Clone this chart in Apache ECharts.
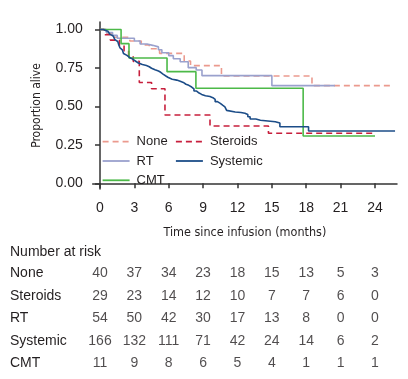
<!DOCTYPE html>
<html>
<head>
<meta charset="utf-8">
<script src="https://cdn.jsdelivr.net/npm/echarts@6/dist/echarts.min.js"></script>
<style>
html,body{margin:0;padding:0;background:#fff;}
#c{width:408px;height:379px;}
</style>
</head>
<body>
<div id="c"></div>
<script>
// ---- data ----
const tickTimes = [0, 3, 6, 9, 12, 15, 18, 21, 24];
const yTicks = [0, 0.25, 0.5, 0.75, 1];
const groups = ['None', 'Steroids', 'RT', 'Systemic', 'CMT'];

const noneT = [0, 0.5, 1.2, 2.6, 3.6, 4.3, 5.2, 7.35, 7.9, 10.6, 18.5, 25.3];
const noneS = [1, 0.975, 0.95, 0.925, 0.9, 0.875, 0.845, 0.795, 0.765, 0.698, 0.635, 0.635];

const steroidsT = [0, 0.4, 0.9, 1.7, 2.1, 2.5, 2.9, 3.43, 4.5, 5.67, 9.6, 14.7, 23.8];
const steroidsS = [1, 0.966, 0.931, 0.897, 0.862, 0.828, 0.793, 0.655, 0.615, 0.444, 0.373, 0.325, 0.325];

const rtT = [0, 0.55, 1.1, 1.5, 3.0, 3.5, 4.1, 4.6, 5.1, 5.4, 6.0, 6.4, 7.0, 7.7, 8.4, 8.9, 15.0, 20.5];
const rtS = [1, 0.981, 0.962, 0.943, 0.925, 0.906, 0.897, 0.887, 0.868, 0.849, 0.83, 0.81, 0.79, 0.752, 0.737, 0.70, 0.635, 0.635];

const systemicT = [0, 0.3, 0.5, 0.7, 0.85, 1.0, 1.15, 1.3, 1.45, 1.55, 1.65, 1.75, 1.85, 1.95, 2.05, 2.2, 2.35, 2.55, 2.75, 2.95, 3.15, 3.35, 3.7, 4.05, 4.3, 4.5, 4.8, 5.1, 5.3, 5.5, 5.75, 5.96, 6.3, 6.7, 7.0, 7.27, 7.5, 7.75, 8.0, 8.2, 8.43, 8.65, 8.87, 9.2, 9.6, 9.85, 10.05, 10.25, 10.5, 10.7, 10.9, 11.05, 11.2, 11.8, 12.3, 12.65, 12.9, 13.1, 13.6, 14.0, 15.3, 15.7, 18.2, 25.75];
const systemicS = [1, 0.994, 0.988, 0.982, 0.97, 0.958, 0.946, 0.934, 0.922, 0.91, 0.898, 0.88, 0.868, 0.856, 0.844, 0.832, 0.82, 0.812, 0.802, 0.792, 0.782, 0.772, 0.766, 0.758, 0.748, 0.738, 0.73, 0.722, 0.71, 0.698, 0.688, 0.677, 0.671, 0.664, 0.656, 0.644, 0.637, 0.626, 0.614, 0.6, 0.587, 0.578, 0.569, 0.564, 0.557, 0.545, 0.531, 0.52, 0.508, 0.497, 0.486, 0.474, 0.464, 0.46, 0.455, 0.447, 0.433, 0.418, 0.41, 0.4, 0.392, 0.368, 0.34, 0.34];

const cmtT = [0, 1.84, 2.53, 5.85, 8.37, 17.73, 24.0];
const cmtS = [1, 0.908, 0.815, 0.726, 0.618, 0.308, 0.308];

const riskNone = [40, 37, 34, 23, 18, 15, 13, 5, 3];
const riskSteroids = [29, 23, 14, 12, 10, 7, 7, 6, 0];
const riskRT = [54, 50, 42, 30, 17, 13, 8, 0, 0];
const riskSystemic = [166, 132, 111, 71, 42, 24, 14, 6, 2];
const riskCMT = [11, 9, 8, 6, 5, 4, 1, 1, 1];

// ---- build ----
const TXT = '#231f20';
const colors = {None: '#eb9a8e', Steroids: '#c71f3c', RT: '#9aa1cd', Systemic: '#1c4d88', CMT: '#4cb948'};
const pair = (t, s) => t.map((v, i) => [v, s[i]]);
const curves = [
  {name: 'None', t: noneT, s: noneS, type: [6, 4]},
  {name: 'Steroids', t: steroidsT, s: steroidsS, type: [6, 4]},
  {name: 'RT', t: rtT, s: rtS, type: 'solid'},
  {name: 'Systemic', t: systemicT, s: systemicS, type: 'solid'},
  {name: 'CMT', t: cmtT, s: cmtS, type: 'solid'}
];
const risk = [riskNone, riskSteroids, riskRT, riskSystemic, riskCMT];

const X_MIN = -0.637, X_MAX = 25.92;
const Y_MIN = -0.037, Y_MAX = 1.0488;
const FONT = '"Liberation Sans", Arial, Helvetica, sans-serif';
const NARROW = '"DejaVu Sans Condensed", "Liberation Sans", sans-serif';

const series = curves.map(c => ({
  name: c.name, type: 'line', step: 'end', xAxisIndex: 0, yAxisIndex: 0,
  data: pair(c.t, c.s), showSymbol: false, symbol: 'none', silent: true,
  lineStyle: {color: colors[c.name], width: 1.6, type: c.type},
  itemStyle: {color: colors[c.name]},
  z: c.name === 'Systemic' ? 3 : 2
}));

const tableData = [];
groups.forEach((g, gi) => {
  tickTimes.forEach((t, ti) => tableData.push([t, g, risk[gi][ti]]));
});
series.push({
  type: 'scatter', xAxisIndex: 1, yAxisIndex: 1, symbolSize: 0, silent: true,
  data: tableData,
  label: {show: true, position: 'inside', formatter: p => String(p.value[2]),
    fontSize: 14, color: TXT, fontFamily: FONT}
});

const legendPos = [
  {name: 'None', left: 101.7, cy: 141.7},
  {name: 'Steroids', left: 175, cy: 141.7},
  {name: 'RT', left: 101.7, cy: 161},
  {name: 'Systemic', left: 175, cy: 161},
  {name: 'CMT', left: 101.7, cy: 180.3}
];
const legends = legendPos.map(l => ({
  data: [l.name], left: l.left, top: l.cy - 7, padding: 0,
  itemWidth: 27, itemHeight: 14, selectedMode: false,
  itemStyle: {opacity: 0},
  lineStyle: {width: 1.8},
  textStyle: {fontSize: 13, color: TXT, fontFamily: FONT, lineHeight: 14, padding: [0, 0, 0, 2]}
}));

const chart = echarts.init(document.getElementById('c'), null, {renderer: 'canvas'});
chart.setOption({
  animation: false,
  backgroundColor: '#fff',
  title: {text: 'Number at risk', left: 10, top: 244, padding: 0,
    textStyle: {fontSize: 14, fontWeight: 'normal', color: TXT, fontFamily: FONT, lineHeight: 16}},
  legend: legends,
  grid: [
    {left: 92.7, right: 11, top: 22, bottom: 190},
    {left: 92.7, right: 11, top: 262, height: 112.5}
  ],
  xAxis: [
    {type: 'value', gridIndex: 0, min: X_MIN, max: X_MAX,
      name: 'Time since infusion (months)', nameLocation: 'middle', nameGap: 37,
      nameTextStyle: {fontSize: 12.5, color: TXT, fontFamily: NARROW},
      axisLine: {show: true, lineStyle: {color: '#333', width: 1.5}},
      axisTick: {show: true, length: 5, lineStyle: {color: '#333', width: 1.5}, customValues: tickTimes},
      axisLabel: {fontSize: 14, color: TXT, fontFamily: FONT, margin: 12, customValues: tickTimes},
      splitLine: {show: false}},
    {type: 'value', gridIndex: 1, min: X_MIN, max: X_MAX, show: false}
  ],
  yAxis: [
    {type: 'value', gridIndex: 0, min: Y_MIN, max: Y_MAX,
      name: 'Proportion alive', nameLocation: 'middle', nameGap: 50, nameRotate: 90,
      nameTextStyle: {fontSize: 12, color: TXT, fontFamily: NARROW},
      axisLine: {show: true, lineStyle: {color: '#333', width: 1.5}},
      axisTick: {show: true, length: 5, lineStyle: {color: '#333', width: 1.5}, customValues: yTicks},
      axisLabel: {fontSize: 14, color: TXT, fontFamily: FONT, margin: 10, customValues: yTicks,
        formatter: v => v.toFixed(2)},
      splitLine: {show: false}},
    {type: 'category', gridIndex: 1, data: groups, inverse: true,
      axisLine: {show: false}, axisTick: {show: false}, splitLine: {show: false},
      axisLabel: {align: 'left', margin: 82.7, fontSize: 14, color: TXT, fontFamily: FONT}}
  ],
  series: series
});
</script>
</body>
</html>
